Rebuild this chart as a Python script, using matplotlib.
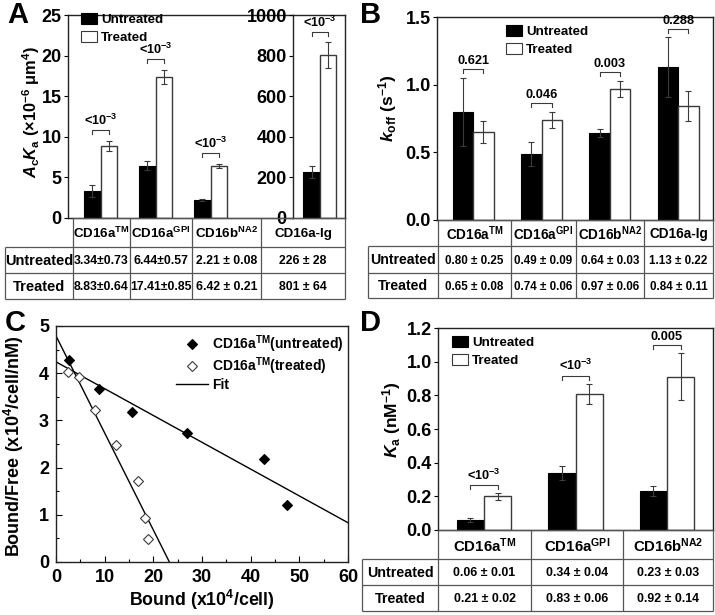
import matplotlib
matplotlib.use('Agg')
import matplotlib.pyplot as plt
from matplotlib.patches import Patch
from matplotlib.lines import Line2D
from matplotlib.ticker import MultipleLocator, FormatStrFormatter
import numpy as np

plt.rcParams['font.family'] = ['Liberation Sans', 'DejaVu Sans']
plt.rcParams['font.weight'] = 'bold'
plt.rcParams['axes.labelweight'] = 'bold'
plt.rcParams['mathtext.fontset'] = 'custom'
plt.rcParams['mathtext.rm'] = 'Liberation Sans:bold'
plt.rcParams['mathtext.bf'] = 'Liberation Sans:bold'
plt.rcParams['mathtext.sf'] = 'Liberation Sans:bold'
plt.rcParams['mathtext.it'] = 'Liberation Sans:italic:bold'
plt.rcParams['mathtext.default'] = 'bf'

# ---------------- data ----------------
row_labels = ['Untreated', 'Treated']

# Panel A
A_groups = ['CD16a$^{TM}$', 'CD16a$^{GPI}$', 'CD16b$^{NA2}$']
A_untreated = [3.34, 6.44, 2.21]
A_untreated_err = [0.73, 0.57, 0.08]
A_treated = [8.83, 17.41, 6.42]
A_treated_err = [0.64, 0.85, 0.21]
A_pvals = ['<10$^{-3}$', '<10$^{-3}$', '<10$^{-3}$']
A_ig_group = ['CD16a-Ig']
A_ig_untreated = [226]
A_ig_untreated_err = [28]
A_ig_treated = [801]
A_ig_treated_err = [64]
A_ig_pvals = ['<10$^{-3}$']
A_table_untreated = ['3.34±0.73', '6.44±0.57', '2.21 ± 0.08', '226 ± 28']
A_table_treated = ['8.83±0.64', '17.41±0.85', '6.42 ± 0.21', '801 ± 64']

# Panel B
B_groups = ['CD16a$^{TM}$', 'CD16a$^{GPI}$', 'CD16b$^{NA2}$', 'CD16a-Ig']
B_untreated = [0.80, 0.49, 0.64, 1.13]
B_untreated_err = [0.25, 0.09, 0.03, 0.22]
B_treated = [0.65, 0.74, 0.97, 0.84]
B_treated_err = [0.08, 0.06, 0.06, 0.11]
B_pvals = ['0.621', '0.046', '0.003', '0.288']
B_table_untreated = ['0.80 ± 0.25', '0.49 ± 0.09', '0.64 ± 0.03', '1.13 ± 0.22']
B_table_treated = ['0.65 ± 0.08', '0.74 ± 0.06', '0.97 ± 0.06', '0.84 ± 0.11']

# Panel C
C_untreated_x = [2.7, 8.9, 15.55, 26.85, 42.7, 47.5]
C_untreated_y = [4.28, 3.66, 3.17, 2.74, 2.19, 1.21]
C_treated_x = [2.4, 4.8, 8.0, 12.26, 16.9, 18.3, 19.0]
C_treated_y = [4.02, 3.91, 3.22, 2.48, 1.72, 0.94, 0.48]
C_fit_untreated = (4.24, -0.0568)   # intercept, slope
C_fit_treated = (4.79, -0.2056)
C_labels = ['CD16a$^{TM}$(untreated)', 'CD16a$^{TM}$(treated)', 'Fit']

# Panel D
D_groups = ['CD16a$^{TM}$', 'CD16a$^{GPI}$', 'CD16b$^{NA2}$']
D_untreated = [0.06, 0.34, 0.23]
D_untreated_err = [0.01, 0.04, 0.03]
D_treated = [0.20, 0.81, 0.91]
D_treated_err = [0.02, 0.06, 0.14]
D_pvals = ['<10$^{-3}$', '<10$^{-3}$', '0.005']
D_table_untreated = ['0.06 ± 0.01', '0.34 ± 0.04', '0.23 ± 0.03']
D_table_treated = ['0.21 ± 0.02', '0.83 ± 0.06', '0.92 ± 0.14']

# ---------------- layout helpers ----------------
W, H = 715, 615
fig = plt.figure(figsize=(W / 100, H / 100), dpi=100)
EDGE = '#3a3a3a'
LINE = '#555555'
TICK_FS = 13


def px_axes(l, t, r, b):
    return fig.add_axes([l / W, 1 - b / H, (r - l) / W, (b - t) / H])


def bold_ticks(ax):
    for lab in ax.get_xticklabels() + ax.get_yticklabels():
        lab.set_fontweight('bold')


def style_bar_axes(ax, ymax, step):
    ax.set_ylim(0, ymax)
    ax.yaxis.set_major_locator(MultipleLocator(step))
    ax.tick_params(axis='y', direction='out', length=3, width=0.8, pad=1.5,
                   labelsize=TICK_FS)
    ax.tick_params(axis='x', bottom=False, labelbottom=False)
    for s in ax.spines.values():
        s.set_linewidth(1.0)
        s.set_color('#222222')


def draw_bars(ax, x, u, ue, t, te, w=0.3):
    x = np.asarray(x, dtype=float)
    ax.bar(x - w / 2, u, w, color='black', edgecolor='black', lw=0.8, zorder=2)
    ax.bar(x + w / 2, t, w, color='white', edgecolor=EDGE, lw=1.0, zorder=2)
    ax.errorbar(x - w / 2, u, yerr=ue, fmt='none', ecolor=EDGE, elinewidth=0.8,
                capsize=2, capthick=0.8, zorder=3)
    ax.errorbar(x + w / 2, t, yerr=te, fmt='none', ecolor=EDGE, elinewidth=0.8,
                capsize=2, capthick=0.8, zorder=3)


def draw_brackets(ax, x, u, ue, t, te, labels, gap_px=9, tick_px=4, fs=9.2, w=0.3):
    ymin, ymax = ax.get_ylim()
    ppu = ax.get_window_extent().height / (ymax - ymin)
    for xi, a, ae, b, be, lab in zip(x, u, ue, t, te, labels):
        top = max(a + ae, b + be)
        y = top + gap_px / ppu
        h = tick_px / ppu
        x0, x1 = xi - w / 2, xi + w / 2
        ax.plot([x0, x0, x1, x1], [y - h, y, y, y - h], color=EDGE, lw=0.8,
                clip_on=False, zorder=4)
        ax.annotate(lab, xy=((x0 + x1) / 2, y), xytext=(0, 1.5),
                    textcoords='offset points', ha='center', va='bottom',
                    fontsize=fs, fontweight='bold', annotation_clip=False)


def bar_legend(ax, x_px, y_px, fs=9.6):
    handles = [Patch(facecolor='black', edgecolor='black', lw=0.8),
               Patch(facecolor='white', edgecolor=EDGE, lw=0.8)]
    ax.legend(handles, row_labels, loc='upper left',
              bbox_to_anchor=(x_px / W, 1 - y_px / H),
              bbox_transform=fig.transFigure, frameon=False, borderpad=0,
              borderaxespad=0, handlelength=1.2, handleheight=0.9,
              handletextpad=0.3, labelspacing=0.35,
              prop={'size': fs, 'weight': 'bold'})


# ---------------- Panel A ----------------
axA = px_axes(68, 15, 293, 218)
style_bar_axes(axA, 25, 5)
axA.set_xlim(-0.595, 3.5)
axA.spines['right'].set_visible(False)
xA = np.arange(len(A_groups))
draw_bars(axA, xA, A_untreated, A_untreated_err, A_treated, A_treated_err)
draw_brackets(axA, xA, A_untreated, A_untreated_err, A_treated, A_treated_err,
              A_pvals, gap_px=11)
axA.set_ylabel(r'$\mathit{A}_{c}\mathit{K}_{a}$ (×10$^{-6}$ μm$^{4}$)',
               fontsize=11.8, fontweight='bold')
axA.yaxis.set_label_coords((42 - 68) / (293 - 68), (218 - 112) / 203)
bar_legend(axA, 81, 13)
bold_ticks(axA)

axA2 = px_axes(293, 15, 345, 218)
style_bar_axes(axA2, 1000, 200)
axA2.set_xlim(-0.49, 0.455)
xA2 = np.arange(len(A_ig_group))
draw_bars(axA2, xA2, A_ig_untreated, A_ig_untreated_err, A_ig_treated, A_ig_treated_err)
draw_brackets(axA2, xA2, A_ig_untreated, A_ig_untreated_err, A_ig_treated,
              A_ig_treated_err, A_ig_pvals, gap_px=10)
bold_ticks(axA2)

# ---------------- Panel B ----------------
axB = px_axes(437, 17, 713, 220)
style_bar_axes(axB, 1.5, 0.5)
axB.yaxis.set_major_formatter(FormatStrFormatter('%.1f'))
axB.set_xlim(-0.53, 3.51)
xB = np.arange(len(B_groups))
draw_bars(axB, xB, B_untreated, B_untreated_err, B_treated, B_treated_err)
draw_brackets(axB, xB, B_untreated, B_untreated_err, B_treated, B_treated_err,
              B_pvals, gap_px=8.5)
axB.set_ylabel(r'$\mathit{k}_{off}$ (s$^{-1}$)', fontsize=12.5, fontweight='bold')
axB.yaxis.set_label_coords((399 - 437) / 276, (220 - 108) / 203)
bar_legend(axB, 506, 25)
bold_ticks(axB)

# ---------------- Panel C ----------------
axC = px_axes(56, 326, 348, 562)
axC.set_xlim(0, 60)
axC.set_ylim(0, 5)
axC.xaxis.set_major_locator(MultipleLocator(10))
axC.xaxis.set_minor_locator(MultipleLocator(5))
axC.yaxis.set_major_locator(MultipleLocator(1))
axC.yaxis.set_minor_locator(MultipleLocator(0.5))
axC.tick_params(which='major', direction='in', length=4, width=0.8, pad=5,
                labelsize=TICK_FS)
axC.tick_params(which='minor', direction='in', length=2, width=0.8)
for s in axC.spines.values():
    s.set_linewidth(1.0)
    s.set_color('#222222')
xfit = np.array([0.0, 60.0])
axC.plot(xfit, C_fit_untreated[0] + C_fit_untreated[1] * xfit, color='black', lw=1.0, zorder=2)
axC.plot(xfit, C_fit_treated[0] + C_fit_treated[1] * xfit, color='black', lw=1.0, zorder=2)
axC.plot(C_untreated_x, C_untreated_y, ls='none', marker='D', ms=4.6,
         mfc='black', mec='black', mew=0.8, zorder=3)
axC.plot(C_treated_x, C_treated_y, ls='none', marker='D', ms=4.6,
         mfc='white', mec=EDGE, mew=0.8, zorder=3)
axC.set_xlabel('Bound (x10$^{4}$/cell)', fontsize=12.8, fontweight='bold')
axC.set_ylabel('Bound/Free (x10$^{4}$/cell/nM)', fontsize=13, fontweight='bold')
axC.xaxis.set_label_coords(0.5, -(588 - 562) / 236)
axC.yaxis.set_label_coords(-(56 - 26) / 292, (562 - 446) / 236)
c_handles = [Line2D([], [], marker='D', ls='none', ms=4.6, mfc='black', mec='black', mew=0.8),
             Line2D([], [], marker='D', ls='none', ms=4.6, mfc='white', mec=EDGE, mew=0.8),
             Line2D([], [], color='black', lw=1.0)]
axC.legend(c_handles, C_labels, loc='upper left',
           bbox_to_anchor=(176 / W, 1 - 333 / H), bbox_transform=fig.transFigure,
           frameon=False, borderpad=0, borderaxespad=0, handlelength=2.3,
           handletextpad=0.3, labelspacing=0.05, numpoints=1,
           prop={'size': 10, 'weight': 'bold'})
bold_ticks(axC)

# ---------------- Panel D ----------------
axD = px_axes(438, 328, 713, 530)
style_bar_axes(axD, 1.2, 0.2)
axD.yaxis.set_major_formatter(FormatStrFormatter('%.1f'))
axD.set_xlim(-0.503, 2.503)
xD = np.arange(len(D_groups))
draw_bars(axD, xD, D_untreated, D_untreated_err, D_treated, D_treated_err)
draw_brackets(axD, xD, D_untreated, D_untreated_err, D_treated, D_treated_err,
              D_pvals, gap_px=8)
axD.set_ylabel(r'$\mathit{K}_{a}$ (nM$^{-1}$)', fontsize=12.5, fontweight='bold')
axD.yaxis.set_label_coords((403 - 438) / 275, (530 - 420) / 202)
bar_legend(axD, 452, 336)
bold_ticks(axD)

# ---------------- tables (overlay in pixel coords) ----------------
ov = fig.add_axes([0, 0, 1, 1])
ov.set_xlim(0, W)
ov.set_ylim(H, 0)
ov.axis('off')
ov.patch.set_alpha(0)


def draw_table(cols, rows, headers, vals_u, vals_t, fs_head, fs_row, fs_val):
    kw = dict(color=LINE, lw=0.9, solid_capstyle='butt')
    ov.plot([cols[1], cols[-1]], [rows[0], rows[0]], **kw)
    for r in rows[1:]:
        ov.plot([cols[0], cols[-1]], [r, r], **kw)
    ov.plot([cols[0], cols[0]], [rows[1], rows[-1]], **kw)
    for c in cols[1:]:
        ov.plot([c, c], [rows[0], rows[-1]], **kw)
    for i, h in enumerate(headers):
        ov.text((cols[i + 1] + cols[i + 2]) / 2, (rows[0] + rows[1]) / 2 + 1, h,
                ha='center', va='center', fontsize=fs_head, fontweight='bold')
    for j, lab in enumerate(row_labels):
        ov.text((cols[0] + cols[1]) / 2, (rows[j + 1] + rows[j + 2]) / 2 + 1, lab,
                ha='center', va='center', fontsize=fs_row, fontweight='bold')
    for i, (a, b) in enumerate(zip(vals_u, vals_t)):
        cx = (cols[i + 1] + cols[i + 2]) / 2
        ov.text(cx, (rows[1] + rows[2]) / 2 + 1, a, ha='center', va='center',
                fontsize=fs_val, fontweight='bold')
        ov.text(cx, (rows[2] + rows[3]) / 2 + 1, b, ha='center', va='center',
                fontsize=fs_val, fontweight='bold')


draw_table([5, 73, 130, 192, 261, 345], [218, 247, 273, 299],
           A_groups + A_ig_group, A_table_untreated, A_table_treated, 9.6, 10.5, 8.8)
draw_table([368, 438, 511, 576, 644, 713], [220, 246, 273, 298],
           B_groups, B_table_untreated, B_table_treated, 9.8, 10.2, 8.4)
draw_table([362, 438, 531, 623, 713], [530, 559, 585, 611],
           D_groups, D_table_untreated, D_table_treated, 10.8, 10.3, 8.9)

# panel letters
for lab, x, y in [('A', 7, 1), ('B', 360, 1), ('C', 5, 309), ('D', 360, 309)]:
    ov.text(x, y, lab, ha='left', va='top', fontsize=21, fontweight='bold')

fig.savefig('out.png', dpi=100)
